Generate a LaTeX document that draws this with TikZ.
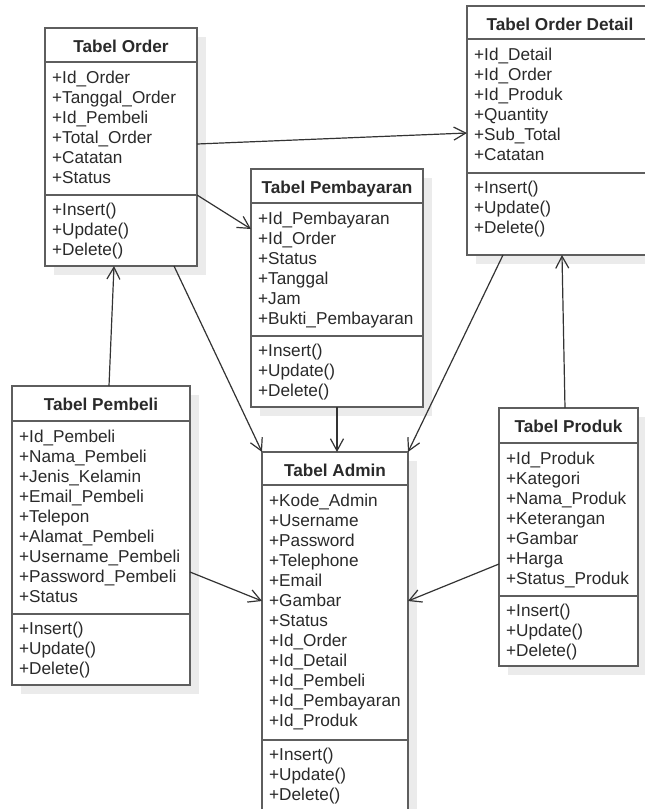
\documentclass[tikz,border=0pt]{standalone}
\usepackage{fontspec}
\setmainfont{Liberation Sans}
\usetikzlibrary{arrows.meta}
\definecolor{shadowc}{HTML}{EBEBEB}
\definecolor{borderc}{HTML}{5E5E5E}
\definecolor{textc}{HTML}{2A2A2A}
\tikzset{
  classbox/.style={draw=borderc, line width=1.8pt, fill=white, inner sep=0pt, outer sep=0pt},
  classline/.style={draw=borderc, line width=1.8pt},
  titletext/.style={anchor=base, inner sep=0pt, text=textc, font=\fontsize{17.2}{20}\selectfont\bfseries},
  attrtext/.style={anchor=base west, inner sep=0pt, text=textc, font=\fontsize{17.2}{20}\selectfont},
  assoc/.style={draw=black!80, line width=1.2pt, -{Straight Barb[length=12pt,width=13pt,line width=1.2pt]}},
}
\newcommand\umlclass[9]{%
  \fill[shadowc] (#2+9,#3+9) rectangle (#4+9,#7+9);
  \node[classbox, minimum width={(#4-#2)*1pt}, minimum height={(#7-#3)*1pt}, anchor=north west] (#1) at (#2,#3) {};
  \draw[classline] (#2,#5) -- (#4,#5);
  \draw[classline] (#2,#6) -- (#4,#6);
  \node[titletext] (#1-t) at ({(#2+#4)/2},{#3+24}) {#8};
  \foreach \t [count=\i] in {#9} \node[attrtext] (#1-a\i) at ({#2+7},{#5+21+20*(\i-1)}) {\t};
  \foreach \t [count=\i] in {+Insert(),+Update(),+Delete()} \node[attrtext] (#1-m\i) at ({#2+7},{#6+20*\i}) {\t};
}
\begin{document}
\begin{tikzpicture}[x=1pt,y=-1pt]
\fill[white] (0,0) rectangle (645,809);
\clip (0,0) rectangle (645,809);
\umlclass{order}{45}{28}{197}{62}{195}{266}{Tabel Order}{+Id\_Order,+Tanggal\_Order,+Id\_Pembeli,+Total\_Order,+Catatan,+Status}
\umlclass{detail}{467}{6}{653}{39}{173}{255}{Tabel Order Detail}{+Id\_Detail,+Id\_Order,+Id\_Produk,+Quantity,+Sub\_Total,+Catatan}
\umlclass{pay}{251}{169}{423}{203}{336}{407}{Tabel Pembayaran}{+Id\_Pembayaran,+Id\_Order,+Status,+Tanggal,+Jam,+Bukti\_Pembayaran}
\umlclass{pembeli}{12}{386}{190}{421}{614}{685}{Tabel Pembeli}{+Id\_Pembeli,+Nama\_Pembeli,+Jenis\_Kelamin,+Email\_Pembeli,+Telepon,+Alamat\_Pembeli,+Username\_Pembeli,+Password\_Pembeli,+Status}
\umlclass{admin}{262}{452}{408}{485}{740}{812}{Tabel Admin}{+Kode\_Admin,+Username,+Password,+Telephone,+Email,+Gambar,+Status,+Id\_Order,+Id\_Detail,+Id\_Pembeli,+Id\_Pembayaran,+Id\_Produk}
\umlclass{produk}{499}{408}{638}{443}{596}{666}{Tabel Produk}{+Id\_Produk,+Kategori,+Nama\_Produk,+Keterangan,+Gambar,+Harga,+Status\_Produk}
% connectors
\draw[assoc] ([yshift=-116pt]order.north east) -- ([yshift=-127pt]detail.north west);
\draw[assoc] ([yshift=-167pt]order.north east) -- ([yshift=-60pt]pay.north west);
\draw[assoc] ([xshift=97pt]pembeli.north west) -- ([xshift=69pt]order.south west);
\draw[assoc] ([xshift=129pt]order.south west) -- (admin.north west);
\draw[assoc] ([xshift=86pt]pay.south west) -- ([xshift=75pt]admin.north west);
\draw[assoc] ([xshift=36pt]detail.south west) -- (admin.north east);
\draw[assoc] ([xshift=66pt]produk.north west) -- ([xshift=95pt]detail.south west);
\draw[assoc] ([yshift=-186pt]pembeli.north east) -- ([yshift=-149pt]admin.north west);
\draw[assoc] ([yshift=-156pt]produk.north west) -- ([yshift=-149pt]admin.north east);
\end{tikzpicture}
\end{document}
